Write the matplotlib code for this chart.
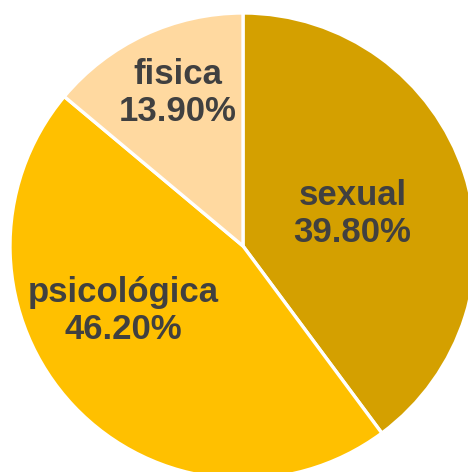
import matplotlib
matplotlib.use("Agg")
import matplotlib.pyplot as plt
import numpy as np

categories = ["sexual", "psicológica", "fisica"]
values = [39.8, 46.2, 13.9]
colors = ["#D4A000", "#FFC000", "#FFD9A0"]

W, H = 468, 472
fig = plt.figure(figsize=(W / 100, H / 100), dpi=100)
cx, cy, r = 243, 246, 233
ax = fig.add_axes([(cx - r) / W, (H - cy - r) / H, 2 * r / W, 2 * r / H])
wedges, _ = ax.pie(values, colors=colors, startangle=90, counterclock=False,
                   radius=1, wedgeprops=dict(edgecolor="white", linewidth=2.4))
ax.set_xlim(-1, 1)
ax.set_ylim(-1, 1)
ax.set_aspect("equal")
ax.axis("off")

# label placement (radial fraction, angle offset in degrees) per slice
label_r = [0.49, 0.585, 0.715]
label_da = [-2.0, -15.0, -2.0]
for w, cat, v, lr, da in zip(wedges, categories, values, label_r, label_da):
    ang = np.deg2rad((w.theta1 + w.theta2) / 2 + da)
    x, y = lr * np.cos(ang), lr * np.sin(ang)
    ax.text(x, y, f"{cat}\n{v:.2f}%", ha="center", va="center",
            fontsize=25, fontweight="bold", color="#404040",
            family=["Liberation Sans", "DejaVu Sans"], linespacing=1.15)

fig.savefig("out.png", dpi=100)
